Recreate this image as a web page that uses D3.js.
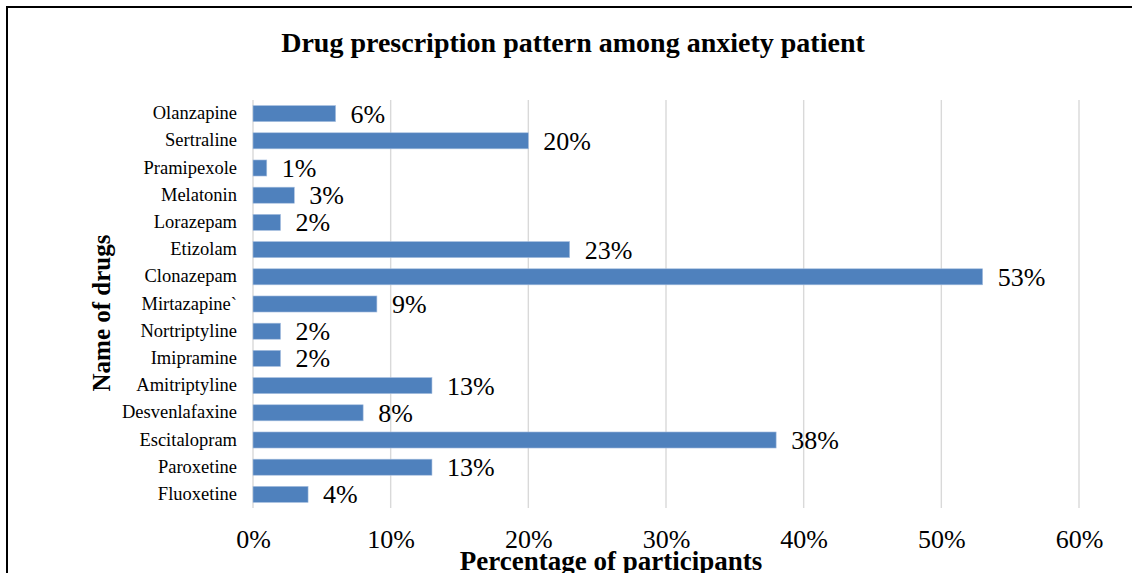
<!DOCTYPE html>
<html>
<head>
<meta charset="utf-8">
<script src="https://cdn.jsdelivr.net/npm/d3@7.9.0/dist/d3.min.js"></script>
<style>
  html, body { margin: 0; padding: 0; background: #fff; }
  svg { display: block; font-family: 'Liberation Serif', 'Times New Roman', serif; }
</style>
</head>
<body>
<div id="chart"></div>
<script>
const drugs = [
  'Olanzapine', 'Sertraline', 'Pramipexole', 'Melatonin', 'Lorazepam',
  'Etizolam', 'Clonazepam', 'Mirtazapine`', 'Nortriptyline', 'Imipramine',
  'Amitriptyline', 'Desvenlafaxine', 'Escitalopram', 'Paroxetine', 'Fluoxetine'
];
const percents = [6, 20, 1, 3, 2, 23, 53, 9, 2, 2, 13, 8, 38, 13, 4];
const xTicks = [0, 10, 20, 30, 40, 50, 60];

const chartTitle = 'Drug prescription pattern among anxiety patient';
const xTitle = 'Percentage of participants';
const yTitle = 'Name of drugs';

const width = 1132;
const height = 573;
const plot = { left: 253, right: 1079, top: 100, bottom: 508 };

const rows = drugs.map((name, i) => ({ name, value: percents[i] }));

const svg = d3.select('#chart')
  .append('svg')
  .attr('width', width)
  .attr('height', height);

// frame (only top and left visible in the crop)
svg.append('rect')
  .attr('x', 7).attr('y', 7)
  .attr('width', 1400).attr('height', 900)
  .attr('fill', 'none')
  .attr('stroke', '#000')
  .attr('stroke-width', 2);

const x = d3.scaleLinear()
  .domain([0, 60])
  .range([plot.left, plot.right]);

const y = d3.scaleBand()
  .domain(drugs)
  .range([plot.top, plot.bottom])
  .paddingInner(0.41)
  .paddingOuter(0.205);

// vertical gridlines
svg.append('g')
  .attr('class', 'gridlines')
  .selectAll('line')
  .data(xTicks)
  .join('line')
  .attr('x1', (d) => x(d))
  .attr('x2', (d) => x(d))
  .attr('y1', plot.top)
  .attr('y2', plot.bottom)
  .attr('stroke', '#d9d9d9')
  .attr('stroke-width', 1.4);

// bars
svg.append('g')
  .attr('class', 'bars')
  .selectAll('rect')
  .data(rows)
  .join('rect')
  .attr('x', x(0))
  .attr('y', (d) => y(d.name))
  .attr('width', (d) => x(d.value) - x(0))
  .attr('height', y.bandwidth())
  .attr('fill', '#4f81bd')
  .attr('stroke', '#a7bfdf')
  .attr('stroke-width', 0.6);

// value labels
svg.append('g')
  .attr('class', 'values')
  .selectAll('text')
  .data(rows)
  .join('text')
  .attr('x', (d) => x(d.value) + 15)
  .attr('y', (d) => y(d.name) + y.bandwidth() / 2 + 9)
  .attr('font-size', 26)
  .attr('fill', '#000')
  .text((d) => `${d.value}%`);

// category axis
const yAxis = svg.append('g')
  .attr('transform', `translate(${plot.left}, 0)`)
  .call(d3.axisLeft(y).tickSize(0).tickPadding(16));
yAxis.select('.domain').remove();
yAxis.selectAll('text')
  .attr('font-family', "'Liberation Serif', 'Times New Roman', serif")
  .attr('font-size', 18.5)
  .attr('fill', '#000')
  .attr('dy', '0.3em');

// percentage axis
const xAxis = svg.append('g')
  .attr('transform', `translate(0, ${plot.bottom})`)
  .call(d3.axisBottom(x).tickValues(xTicks).tickSize(0).tickPadding(22)
    .tickFormat((d) => `${d}%`));
xAxis.select('.domain').remove();
xAxis.selectAll('text')
  .attr('font-family', "'Liberation Serif', 'Times New Roman', serif")
  .attr('font-size', 26)
  .attr('fill', '#000')
  .attr('dy', '0.71em');

// titles
svg.append('text')
  .attr('x', 573)
  .attr('y', 52)
  .attr('text-anchor', 'middle')
  .attr('font-size', 28)
  .attr('font-weight', 700)
  .text(chartTitle);

svg.append('text')
  .attr('x', 611)
  .attr('y', 570)
  .attr('text-anchor', 'middle')
  .attr('font-size', 27)
  .attr('font-weight', 700)
  .text(xTitle);

svg.append('text')
  .attr('transform', 'translate(110, 313) rotate(-90)')
  .attr('text-anchor', 'middle')
  .attr('font-size', 25)
  .attr('font-weight', 700)
  .text(yTitle);
</script>
</body>
</html>
